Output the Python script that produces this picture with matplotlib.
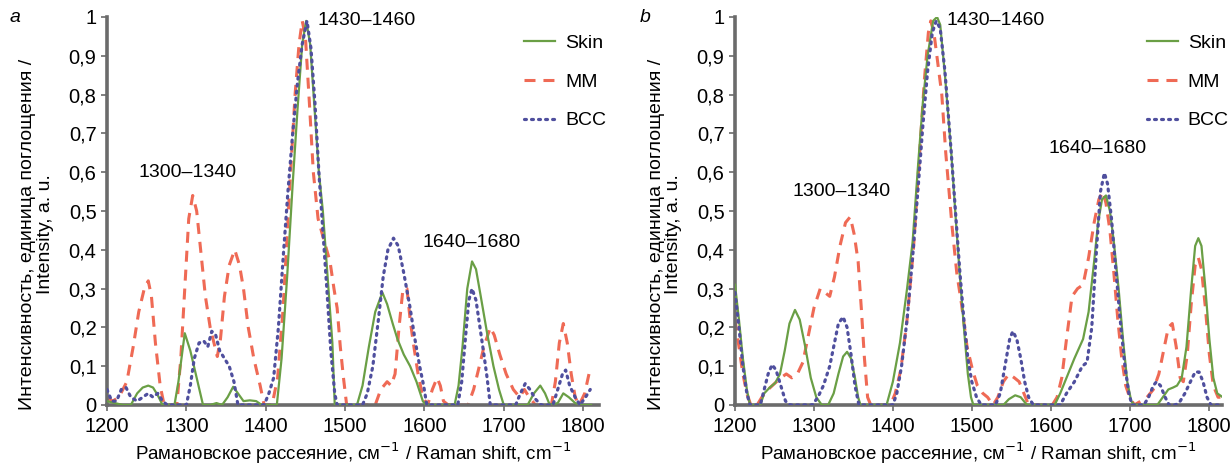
import matplotlib
matplotlib.use("Agg")
import matplotlib.pyplot as plt
from matplotlib.ticker import FuncFormatter

plt.rcParams['font.family'] = ['Liberation Sans Narrow', 'Liberation Sans', 'DejaVu Sans']

# ---------- panel a ----------
skin_a_x = [1200, 1210, 1220, 1230, 1238, 1245, 1252, 1258, 1264, 1270, 1285, 1290, 1298, 1305, 1313, 1321,
            1330, 1338, 1345, 1352, 1359, 1365, 1372, 1380, 1388, 1395, 1410, 1414, 1420, 1427, 1434, 1440,
            1446, 1451, 1456, 1462, 1467, 1472, 1478, 1484, 1487, 1515, 1522, 1530, 1538, 1547, 1553, 1560,
            1566, 1574, 1582, 1590, 1598, 1602, 1638, 1643, 1648, 1654, 1660, 1665, 1671, 1679, 1687, 1694,
            1700, 1730, 1738, 1746, 1752, 1758, 1768, 1775, 1782, 1790, 1798, 1810]
skin_a_y = [0.01, 0.005, 0.0, 0.0, 0.03, 0.045, 0.05, 0.045, 0.025, 0.0, 0.0, 0.06, 0.185, 0.14, 0.07, 0.0,
            0.0, 0.005, 0.0, 0.02, 0.047, 0.03, 0.01, 0.012, 0.01, 0.0, 0.0, 0.0, 0.12, 0.33, 0.57, 0.76,
            0.93, 0.99, 0.93, 0.75, 0.6, 0.5, 0.33, 0.16, 0.0, 0.0, 0.05, 0.15, 0.24, 0.29, 0.26, 0.21,
            0.17, 0.13, 0.1, 0.06, 0.01, 0.0, 0.0, 0.05, 0.15, 0.3, 0.37, 0.35, 0.28, 0.185, 0.1, 0.04,
            0.0, 0.0, 0.03, 0.05, 0.03, 0.0, 0.005, 0.03, 0.02, 0.005, 0.0, 0.0]

mm_a_x = [1200, 1207, 1215, 1225, 1233, 1240, 1247, 1252, 1256, 1261, 1267, 1272, 1288, 1293, 1298, 1303,
          1308, 1313, 1318, 1324, 1330, 1339, 1343, 1348, 1354, 1361, 1367, 1372, 1378, 1385, 1393, 1398,
          1408, 1415, 1422, 1430, 1437, 1442, 1446, 1450, 1455, 1460, 1466, 1474, 1481, 1486, 1490, 1494,
          1498, 1502, 1538, 1545, 1553, 1558, 1563, 1568, 1573, 1578, 1582, 1586, 1592, 1598, 1604, 1610,
          1616, 1620, 1624, 1630, 1655, 1662, 1668, 1675, 1683, 1688, 1695, 1703, 1712, 1720, 1726, 1732,
          1740, 1760, 1765, 1770, 1775, 1780, 1785, 1790, 1795, 1802, 1809]
mm_a_y = [0.02, 0.01, 0.02, 0.06, 0.15, 0.24, 0.3, 0.32, 0.28, 0.16, 0.05, 0.0, 0.0, 0.12, 0.3, 0.48,
          0.54, 0.5, 0.4, 0.28, 0.2, 0.125, 0.17, 0.28, 0.36, 0.40, 0.36, 0.3, 0.2, 0.12, 0.05, 0.0,
          0.0, 0.07, 0.25, 0.55, 0.8, 0.93, 0.99, 0.95, 0.78, 0.6, 0.48, 0.42, 0.37, 0.3, 0.25, 0.15,
          0.07, 0.0, 0.0, 0.04, 0.06, 0.05, 0.08, 0.2, 0.3, 0.3, 0.22, 0.16, 0.08, 0.02, 0.0, 0.04,
          0.07, 0.05, 0.01, 0.0, 0.0, 0.04, 0.09, 0.15, 0.2, 0.18, 0.13, 0.08, 0.04, 0.02, 0.04, 0.02,
          0.0, 0.0, 0.06, 0.16, 0.21, 0.16, 0.08, 0.02, 0.0, 0.03, 0.095]

bcc_a_x = [1200, 1206, 1212, 1218, 1224, 1230, 1238, 1245, 1252, 1258, 1264, 1270, 1276, 1300, 1305, 1310,
           1316, 1322, 1327, 1332, 1337, 1342, 1348, 1354, 1360, 1365, 1398, 1404, 1410, 1416, 1422, 1428,
           1434, 1440, 1446, 1452, 1457, 1462, 1467, 1472, 1477, 1482, 1487, 1490, 1522, 1528, 1535, 1542,
           1548, 1554, 1561, 1567, 1574, 1582, 1588, 1594, 1599, 1603, 1642, 1647, 1652, 1656, 1660, 1665,
           1670, 1675, 1679, 1683, 1715, 1721, 1727, 1733, 1740, 1747, 1762, 1768, 1774, 1778, 1783, 1790,
           1796, 1803, 1809]
bcc_a_y = [0.04, 0.01, 0.01, 0.04, 0.045, 0.02, 0.01, 0.02, 0.03, 0.02, 0.03, 0.01, 0.0, 0.0, 0.05, 0.12,
           0.16, 0.165, 0.15, 0.19, 0.18, 0.14, 0.12, 0.1, 0.06, 0.0, 0.0, 0.03, 0.07, 0.2, 0.38, 0.55,
           0.7, 0.83, 0.93, 0.99, 0.92, 0.78, 0.6, 0.45, 0.3, 0.14, 0.03, 0.0, 0.0, 0.03, 0.1, 0.22,
           0.33, 0.4, 0.43, 0.41, 0.34, 0.25, 0.17, 0.1, 0.05, 0.0, 0.0, 0.06, 0.18, 0.27, 0.3, 0.27,
           0.2, 0.13, 0.07, 0.0, 0.0, 0.03, 0.055, 0.04, 0.015, 0.0, 0.0, 0.04, 0.08, 0.09, 0.05, 0.02,
           0.0, 0.02, 0.04]

# ---------- panel b ----------
skin_b_x = [1200, 1205, 1210, 1215, 1219, 1232, 1237, 1244, 1251, 1257, 1263, 1269, 1276, 1282, 1289, 1296,
            1303, 1310, 1318, 1325, 1331, 1337, 1342, 1347, 1352, 1356, 1359, 1392, 1400, 1409, 1418, 1425,
            1432, 1438, 1444, 1451, 1456, 1460, 1466, 1474, 1480, 1485, 1490, 1495, 1499, 1502, 1540, 1547,
            1555, 1562, 1570, 1605, 1612, 1620, 1630, 1641, 1648, 1655, 1660, 1665, 1670, 1675, 1680, 1686,
            1692, 1697, 1702, 1706, 1735, 1742, 1749, 1755, 1760, 1766, 1772, 1778, 1783, 1787, 1791, 1796,
            1801, 1806, 1811, 1818]
skin_b_y = [0.31, 0.22, 0.12, 0.04, 0.0, 0.0, 0.03, 0.045, 0.057, 0.08, 0.14, 0.21, 0.245, 0.22, 0.15, 0.07,
            0.02, 0.0, 0.0, 0.03, 0.08, 0.125, 0.137, 0.12, 0.07, 0.02, 0.0, 0.0, 0.06, 0.16, 0.3, 0.42,
            0.62, 0.78, 0.9, 0.99, 1.0, 0.98, 0.85, 0.65, 0.47, 0.33, 0.2, 0.08, 0.02, 0.0, 0.0, 0.015,
            0.025, 0.02, 0.0, 0.0, 0.03, 0.07, 0.12, 0.17, 0.24, 0.37, 0.47, 0.53, 0.54, 0.5, 0.42, 0.3,
            0.16, 0.06, 0.01, 0.0, 0.0, 0.02, 0.04, 0.045, 0.05, 0.07, 0.15, 0.3, 0.41, 0.43, 0.41, 0.3,
            0.17, 0.07, 0.03, 0.02]

mm_b_x = [1200, 1205, 1210, 1215, 1220, 1228, 1234, 1242, 1251, 1258, 1265, 1272, 1279, 1286, 1292, 1300,
          1308, 1314, 1320, 1326, 1333, 1340, 1346, 1351, 1356, 1360, 1364, 1368, 1372, 1397, 1403, 1410,
          1418, 1426, 1433, 1440, 1445, 1448, 1452, 1457, 1462, 1467, 1475, 1481, 1487, 1494, 1501, 1507,
          1514, 1520, 1527, 1533, 1540, 1547, 1554, 1560, 1566, 1572, 1602, 1608, 1614, 1620, 1627, 1634,
          1641, 1648, 1655, 1661, 1666, 1670, 1675, 1680, 1685, 1690, 1695, 1700, 1706, 1714, 1722, 1730,
          1737, 1743, 1749, 1754, 1759, 1764, 1768, 1773, 1778, 1783, 1787, 1791, 1796, 1801, 1806, 1812,
          1818]
mm_b_y = [0.22, 0.15, 0.08, 0.03, 0.0, 0.0, 0.02, 0.04, 0.057, 0.07, 0.08, 0.07, 0.08, 0.11, 0.17, 0.25,
          0.30, 0.29, 0.28, 0.33, 0.41, 0.47, 0.485, 0.44, 0.37, 0.25, 0.12, 0.02, 0.0, 0.0, 0.03, 0.09,
          0.22, 0.4, 0.62, 0.84, 0.96, 0.99, 0.96, 0.88, 0.8, 0.65, 0.46, 0.34, 0.26, 0.15, 0.09, 0.05,
          0.03, 0.02, 0.0, 0.02, 0.06, 0.08, 0.07, 0.06, 0.03, 0.0, 0.0, 0.02, 0.07, 0.17, 0.28, 0.3,
          0.31, 0.38, 0.47, 0.53, 0.55, 0.52, 0.45, 0.34, 0.22, 0.12, 0.05, 0.02, 0.0, 0.01, 0.02, 0.04,
          0.08, 0.14, 0.2, 0.21, 0.15, 0.07, 0.06, 0.13, 0.26, 0.36, 0.38, 0.35, 0.25, 0.13, 0.05, 0.02,
          0.02]

bcc_b_x = [1200, 1205, 1210, 1215, 1219, 1232, 1237, 1242, 1247, 1252, 1258, 1264, 1270, 1298, 1305, 1312,
           1320, 1326, 1331, 1337, 1342, 1347, 1352, 1357, 1400, 1405, 1411, 1418, 1425, 1432, 1438, 1444,
           1450, 1455, 1460, 1466, 1474, 1480, 1485, 1490, 1495, 1500, 1506, 1512, 1530, 1536, 1542, 1548,
           1552, 1557, 1562, 1567, 1572, 1578, 1612, 1620, 1630, 1640, 1646, 1652, 1658, 1663, 1668, 1672,
           1677, 1682, 1688, 1694, 1699, 1703, 1718, 1724, 1730, 1734, 1739, 1745, 1750, 1758, 1764, 1770,
           1777, 1783, 1788, 1793, 1798, 1803, 1812]
bcc_b_y = [0.29, 0.2, 0.1, 0.03, 0.0, 0.0, 0.04, 0.08, 0.104, 0.09, 0.05, 0.01, 0.0, 0.0, 0.02, 0.05,
           0.1, 0.16, 0.21, 0.227, 0.2, 0.13, 0.05, 0.0, 0.0, 0.03, 0.1, 0.22, 0.38, 0.56, 0.72, 0.86,
           0.96, 0.99, 0.97, 0.86, 0.65, 0.48, 0.34, 0.22, 0.12, 0.06, 0.02, 0.0, 0.0, 0.03, 0.1, 0.17,
           0.19, 0.17, 0.12, 0.06, 0.02, 0.0, 0.0, 0.03, 0.06, 0.1, 0.11, 0.2, 0.4, 0.55, 0.598, 0.57,
           0.48, 0.36, 0.22, 0.1, 0.03, 0.0, 0.0, 0.02, 0.05, 0.06, 0.05, 0.02, 0.0, 0.0, 0.01, 0.03,
           0.06, 0.085, 0.085, 0.06, 0.02, 0.0, 0.0]

# annotation labels (text, x, y) per panel
notes_a = [("1300–1340", 1302, 0.60), ("1430–1460", 1527, 0.99), ("1640–1680", 1660, 0.42)]
notes_b = [("1300–1340", 1335, 0.55), ("1430–1460", 1530, 0.99), ("1640–1680", 1659, 0.66)]

green = '#6a9f45'
red = '#ef6a55'
blue = '#4f4f9e'
axis_col = '#6b6b6b'

fig = plt.figure(figsize=(12.32, 4.71), dpi=100)
ax_a = fig.add_axes([107 / 1232, 1 - 405 / 471, 492 / 1232, 388 / 471])
ax_b = fig.add_axes([735 / 1232, 1 - 405 / 471, 487 / 1232, 388 / 471])

panels = [
    (ax_a, skin_a_x, skin_a_y, mm_a_x, mm_a_y, bcc_a_x, bcc_a_y, notes_a, 1820),
    (ax_b, skin_b_x, skin_b_y, mm_b_x, mm_b_y, bcc_b_x, bcc_b_y, notes_b, 1817),
]

for ax, sx, sy, mx, my, bx, by, notes, xmax in panels:
    ax.plot(sx, sy, color=green, lw=1.6, label='Skin', zorder=3)
    ax.plot(mx, my, color=red, lw=2.2, dashes=(3.6, 2.6), label='MM', zorder=2)
    ax.plot(bx, by, color=blue, lw=2.3, linestyle=(0, (0.6, 1.6)), dash_capstyle='round',
            label='BCC', zorder=4)

    ax.set_xlim(1200, xmax)
    ax.set_ylim(0, 1)
    ax.set_xticks(range(1200, 1801, 100))
    ax.set_yticks([i / 10 for i in range(11)])
    ax.yaxis.set_major_formatter(FuncFormatter(lambda v, p: ('%g' % round(v, 1)).replace('.', ',')))
    ax.tick_params(labelsize=14.5, colors=axis_col, labelcolor='black', length=4, width=1.2)
    ax.tick_params(axis='x', pad=5)
    for s in ['top', 'right']:
        ax.spines[s].set_visible(False)
    for s in ['left', 'bottom']:
        ax.spines[s].set_color(axis_col)
        ax.spines[s].set_linewidth(2.6)
    ax.patch.set_alpha(0)

    for txt, x, y in notes:
        ax.text(x, y, txt, ha='center', va='center', fontsize=14)

    ax.set_xlabel('Рамановское рассеяние, см$^{-1}$ / Raman shift, cm$^{-1}$', fontsize=13.5, labelpad=3)
    ax.set_ylabel('Интенсивность, единица поглощения /\nIntensity, a. u.', fontsize=14,
                  linespacing=1.05)
    ax.yaxis.set_label_coords(-0.108, 0.44)

    leg = ax.legend(loc='upper right', bbox_to_anchor=(1.05, 1.0), frameon=False, fontsize=14,
                    handlelength=1.6, handletextpad=0.5, labelspacing=1.08)

fig.text(10 / 1232, 1 - 17 / 471, 'a', fontsize=14, style='italic', va='center')
fig.text(640 / 1232, 1 - 17 / 471, 'b', fontsize=14, style='italic', va='center')

fig.savefig('out.png', dpi=100)
